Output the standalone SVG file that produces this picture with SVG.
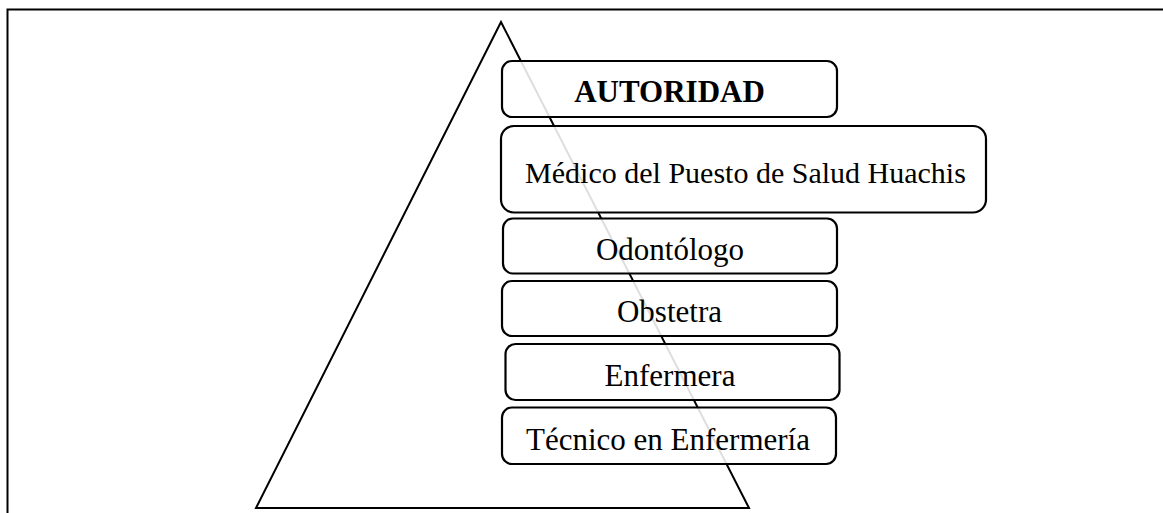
<svg xmlns="http://www.w3.org/2000/svg" width="1163" height="513" viewBox="0 0 1163 513">
<style>
.box{fill:#fff;fill-opacity:0.87;stroke:#000;stroke-width:2.2}
.t{font-family:"Liberation Serif","Times New Roman",serif;font-size:31px;fill:#000;text-anchor:middle}
.b{font-weight:bold}
</style>
<rect width="1163" height="513" fill="#fff"/>
<g id="frame"><path d="M7.5,515 V9.5 H1165" fill="none" stroke="#000" stroke-width="2"/></g>
<g id="pyramid"><polygon points="501,22 256,508 749,508" fill="none" stroke="#000" stroke-width="2" stroke-linejoin="miter"/></g>
<g id="n1"><rect class="box" x="502" y="61" width="335" height="56" rx="10"/><text class="t b" x="669.5" y="101.5">AUTORIDAD</text></g>
<g id="n2"><rect class="box" x="501" y="126" width="485" height="86.5" rx="13"/><text class="t" x="745.5" y="183" style="font-size:30px">Médico del Puesto de Salud Huachis</text></g>
<g id="n3"><rect class="box" x="503" y="218.5" width="334" height="55" rx="10"/><text class="t" x="670" y="259.5">Odontólogo</text></g>
<g id="n4"><rect class="box" x="502" y="281" width="335" height="55" rx="10"/><text class="t" x="669.5" y="322">Obstetra</text></g>
<g id="n5"><rect class="box" x="505.5" y="344" width="334" height="56" rx="10"/><text class="t" x="670" y="386">Enfermera</text></g>
<g id="n6"><rect class="box" x="502" y="407.5" width="334" height="56.5" rx="10"/><text class="t" x="668" y="450">Técnico en Enfermería</text></g>
<g id="connectors"/>
</svg>
